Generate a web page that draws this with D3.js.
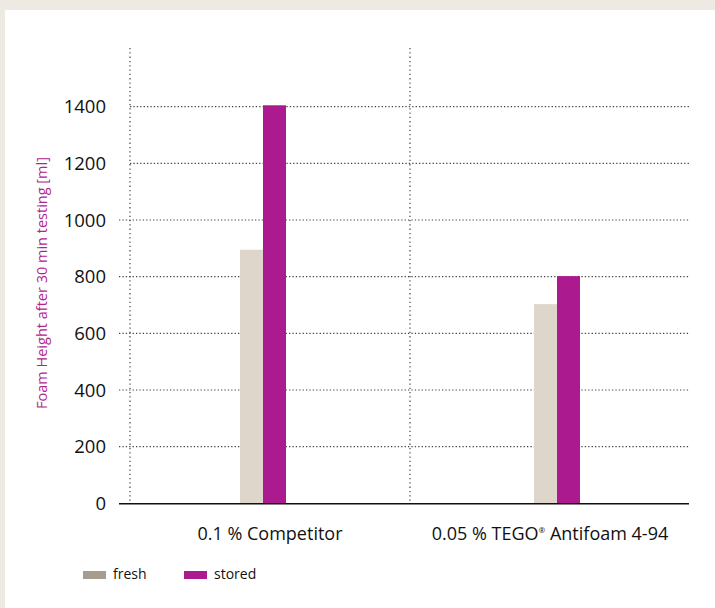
<!DOCTYPE html>
<html><head><meta charset="utf-8">
<script src="https://cdn.jsdelivr.net/npm/d3@7"></script>
<style>
html,body{margin:0;padding:0;background:#EEEAE3;}
svg{display:block;}
text{font-family:"Open Sans","Noto Sans",sans-serif;}
</style></head>
<body><svg id="c" width="715" height="608"></svg>
<script>
const categories = ["0.1 % Competitor", "0.05 % TEGO® Antifoam 4-94"];
const series = ["fresh", "stored"];
const fresh = [895, 703];
const stored = [1405, 802];
const yTicks = [0, 200, 400, 600, 800, 1000, 1200, 1400];
const yTitle = "Foam Height after 30 min testing [ml]";
const colors = {fresh: "#DED6CA", stored: "#AB1A8E"};
const legendColors = {fresh: "#A69C8F", stored: "#AB1A8E"};

const svg = d3.select("#c");
svg.append("rect").attr("x",5).attr("y",10).attr("width",710).attr("height",598).attr("fill","#fff");

const y = d3.scaleLinear().domain([0,1400]).range([503.3,106.7]);
const xLab = d3.scaleBand().domain(categories).range([130,690]);
const xBar = d3.scaleBand().domain(categories).range([116,704]);
const xs = d3.scaleBand().domain(series).range([-23,23]);

const g = svg.append("g");
// horizontal grid
g.selectAll(".hg").data(yTicks.filter(d=>d>0)).join("line")
  .attr("x1", d=> d<=1000 ? 119 : 130).attr("x2",690)
  .attr("y1", d=>y(d)).attr("y2", d=>y(d))
  .attr("stroke","#444").attr("stroke-width",1.2).attr("stroke-dasharray","1.3,2.1");
// vertical grid at band starts
g.selectAll(".vg").data(categories).join("line")
  .attr("x1", d=>xLab(d)).attr("x2", d=>xLab(d))
  .attr("y1", 48).attr("y2", y(0))
  .attr("stroke","#444").attr("stroke-width",1.2).attr("stroke-dasharray","1.3,3");

// bars
const data = categories.map((c,i)=>({c, vals:[{s:"fresh",v:fresh[i]},{s:"stored",v:stored[i]}]}));
const grp = g.selectAll(".grp").data(data).join("g")
  .attr("transform", d=>`translate(${xBar(d.c)+xBar.bandwidth()/2},0)`);
grp.selectAll("rect").data(d=>d.vals).join("rect")
  .attr("x", d=>xs(d.s)).attr("width", xs.bandwidth())
  .attr("y", d=>y(d.v)).attr("height", d=>y(0)-y(d.v))
  .attr("fill", d=>colors[d.s]);

// baseline
g.append("line").attr("x1",119).attr("x2",689).attr("y1",y(0)+0.5).attr("y2",y(0)+0.5)
  .attr("stroke","#111").attr("stroke-width",1.6);

// y tick labels
g.selectAll(".yl").data(yTicks).join("text")
  .attr("x",106).attr("y", d=>y(d)).attr("dy","0.36em")
  .attr("text-anchor","end").attr("font-size",18.5).attr("fill","#111")
  .text(d=>d);

// category labels
g.selectAll(".cl").data(categories).join("text")
  .attr("x", d=>xLab(d)+xLab.bandwidth()/2).attr("y",540)
  .attr("text-anchor","middle").attr("font-size",18).attr("fill","#111")
  .each(function(d){
    const t = d3.select(this);
    const parts = d.split("®");
    t.append("tspan").text(parts[0]);
    if(parts.length>1){
      t.append("tspan").attr("font-size",8).attr("dy",-7).text("®");
      t.append("tspan").attr("dy",7).text(parts[1]);
    }
  });

// y title
svg.append("text").attr("transform","translate(47,283) rotate(-90)")
  .attr("text-anchor","middle").attr("font-size",14.5).attr("fill","#B0268F")
  .text(yTitle);

// legend
const lx = [83, 184];
const leg = svg.selectAll(".lg").data(series).join("g")
  .attr("transform",(d,i)=>`translate(${lx[i]},571)`);
leg.append("rect").attr("width",23).attr("height",8).attr("fill",d=>legendColors[d]);
leg.append("text").attr("x",30).attr("y",7.5).attr("font-size",14).attr("fill","#111").text(d=>d);
</script></body></html>
